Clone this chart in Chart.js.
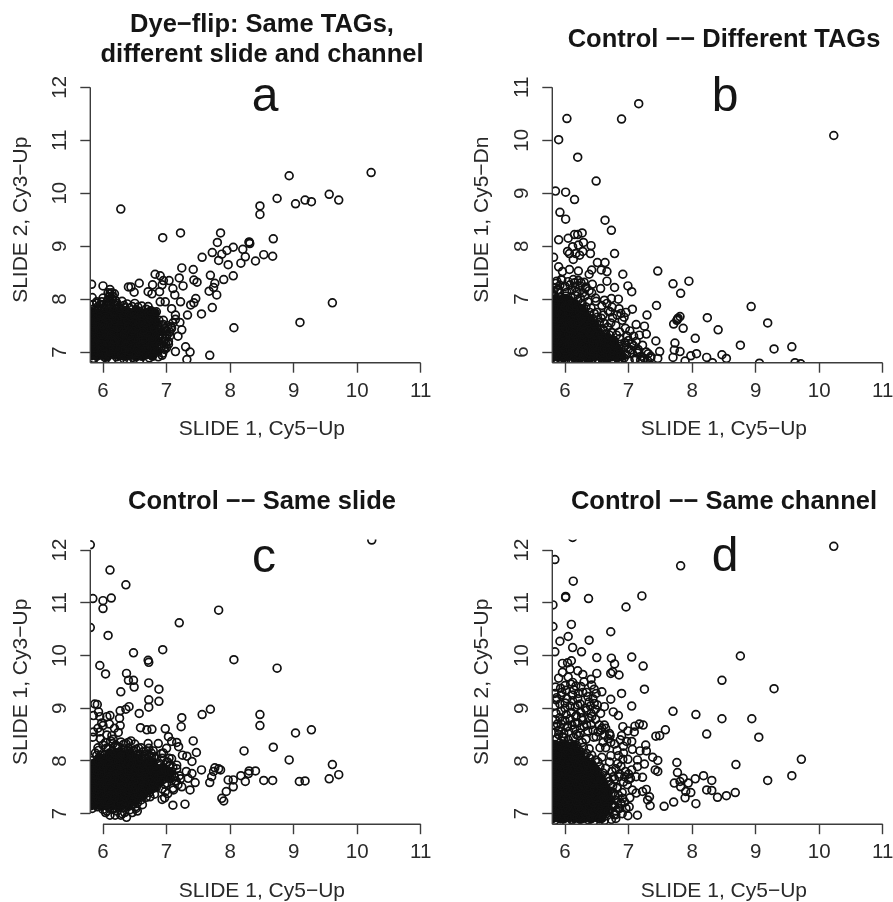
<!DOCTYPE html>
<html>
<head>
<meta charset="utf-8">
<title>Dye-flip scatter panels</title>
<script src="https://cdn.jsdelivr.net/npm/chart.js@4/dist/chart.umd.js"></script>
<style>
  html, body { margin: 0; padding: 0; background: #fff; }
  body { width: 893px; height: 902px; position: relative; overflow: hidden; font-family: "Liberation Sans", sans-serif; }
  canvas { position: absolute; }
  .title { position: absolute; width: 440px; text-align: center; font-weight: bold; font-size: 25.5px; line-height: 30px; color: #151515; }
  .letter { position: absolute; width: 60px; text-align: center; font-size: 48px; line-height: 60px; color: #151515; }
</style>
</head>
<body>
<canvas id="panelA"></canvas>
<canvas id="panelB"></canvas>
<canvas id="panelC"></canvas>
<canvas id="panelD"></canvas>
<div class="title" style="left:42px;top:8px">Dye−flip: Same TAGs,<br>different slide and channel</div>
<div class="title" style="left:504px;top:23px">Control −− Different TAGs</div>
<div class="title" style="left:42px;top:485px">Control −− Same slide</div>
<div class="title" style="left:504px;top:485px">Control −− Same channel</div>
<div class="letter" style="left:235px;top:65px">a</div>
<div class="letter" style="left:695px;top:65px">b</div>
<div class="letter" style="left:234px;top:526px">c</div>
<div class="letter" style="left:695px;top:525px">d</div>
<script>
const xTicks = [6, 7, 8, 9, 10, 11];
const yTicksHigh = [7, 8, 9, 10, 11, 12];
const yTicksLow = [6, 7, 8, 9, 10, 11];

const xLabel = "SLIDE 1, Cy5−Up";
const yLabelA = "SLIDE 2, Cy3−Up";
const yLabelB = "SLIDE 1, Cy5−Dn";
const yLabelC = "SLIDE 1, Cy3−Up";
const yLabelD = "SLIDE 2, Cy5−Up";

// panel a, outliers read one by one, then the black cloud row by row
const aX = [10.22,8.93,9.56,9.71,8.74,9.03,9.18,9.28,8.47,8.47,6.28,7.22,6.94,7.85,7.80,8.68,8.30,8.30,8.31,8.20,8.05,7.95,7.87,7.72,7.56,7.82,7.97,8.24,8.17,8.40,8.53,8.67,
  7.24,7.42,7.69,8.05,7.90,7.43,7.48,7.20,7.76,7.74,7.67,7.79,7.46,7.43,7.38,7.72,7.55,7.33,9.61,9.10,8.06,7.68,7.30,7.37,7.32,7.14,7.24,7.18,7.21,7.14,7.08,7.22,7.13,7.26,7.10,7.04,6.95,6.90,6.82,6.78,6.93,6.71,6.77,6.89,6.57,6.40,6.44,6.49,5.82,6.00,6.11,5.83,6.11,6.16,6.98,6.90,6.71,6.61,6.50,5.98,5.90,
  5.85,5.96,6.03,6.14,6.21,6.33,6.38,6.47,6.58,6.62,6.73,6.87,
  5.83,5.92,6.05,6.11,6.24,6.29,6.41,6.52,6.56,6.68,6.77,6.93,
  5.87,5.95,6.01,6.16,6.20,6.35,6.43,6.49,6.61,6.71,6.80,6.96,
  5.84,5.98,6.07,6.12,6.26,6.31,6.39,6.54,6.59,6.66,6.83,6.99,
  5.88,5.93,6.04,6.18,6.23,6.36,6.44,6.50,6.63,6.74,6.78,6.94,
  5.82,5.97,6.09,6.13,6.27,6.33,6.42,6.55,6.60,6.69,6.84,7.01,
  5.86,5.94,6.02,6.17,6.22,6.37,6.46,6.51,6.64,6.72,6.81,6.91,
  5.84,5.99,6.08,6.15,6.28,6.34,6.40,6.56,6.62,6.67,6.79,6.86,
  5.89,5.92,6.05,6.19,6.25,6.38,6.47,6.53,6.58,6.70,6.76,6.83,
  5.83,5.96,6.10,6.14,6.29,6.32,6.43,6.49,6.60,6.65,6.73,6.80,
  5.87,5.95,6.03,6.16,6.21,6.35,6.41,6.52,6.57,6.68,6.75,6.84,
  5.84,5.92,6.05,6.12,6.18,6.25,6.33,6.42,6.55,6.10,6.15,6.20,6.08,6.18,
  7.00,7.05,6.98,7.03,6.97,6.90,7.08,7.02,7.10,6.93,6.88,6.95,7.14,
  6.86,6.91,6.96,7.00,7.05,6.88,6.93,6.98,7.03,6.90,6.95,7.00,7.07,6.94,5.86,5.94,6.02,6.10,6.18,6.26,6.34,5.90,5.98,6.06,6.14,6.22,6.30,6.38,6.46,6.00,6.08,6.14];
const aY = [10.39,10.33,9.98,9.87,9.90,9.80,9.87,9.84,9.76,9.60,9.70,9.25,9.16,9.25,9.07,9.14,9.07,9.08,9.05,8.94,8.98,8.92,8.85,8.88,8.79,8.73,8.65,8.80,8.68,8.72,8.84,8.81,
  8.59,8.56,8.45,8.44,8.37,8.36,8.32,8.40,8.30,8.22,8.15,8.08,8.01,7.93,7.89,7.84,7.72,7.70,7.93,7.56,7.46,6.94,7.10,7.00,6.86,7.01,7.42,7.30,7.56,7.70,7.82,7.95,8.08,8.25,8.20,8.35,8.35,8.44,8.47,8.27,8.27,8.14,8.10,8.14,8.30,8.23,8.23,8.13,8.28,8.25,8.18,8.03,8.10,8.05,7.95,7.95,7.86,7.87,7.92,7.95,7.92,
  6.88,6.85,6.90,6.86,6.91,6.87,6.84,6.90,6.86,6.92,6.89,6.91,
  6.97,7.00,6.96,7.01,6.98,6.95,7.02,6.97,7.01,6.96,7.00,6.94,
  7.08,7.05,7.10,7.06,7.09,7.04,7.10,7.07,7.05,7.09,7.06,7.08,
  7.17,7.15,7.18,7.14,7.19,7.16,7.13,7.18,7.15,7.19,7.16,7.15,
  7.26,7.24,7.27,7.23,7.28,7.25,7.22,7.27,7.24,7.28,7.25,7.26,
  7.35,7.33,7.36,7.32,7.37,7.34,7.31,7.36,7.33,7.37,7.34,7.33,
  7.44,7.42,7.45,7.41,7.46,7.43,7.40,7.45,7.42,7.46,7.43,7.41,
  7.53,7.51,7.54,7.50,7.55,7.52,7.49,7.54,7.51,7.55,7.52,7.50,
  7.62,7.60,7.63,7.59,7.64,7.61,7.58,7.63,7.60,7.64,7.61,7.59,
  7.71,7.69,7.72,7.68,7.73,7.70,7.67,7.72,7.69,7.73,7.70,7.68,
  7.79,7.77,7.80,7.76,7.81,7.78,7.75,7.80,7.77,7.81,7.78,7.76,
  7.90,7.86,7.88,7.95,7.90,7.84,7.88,7.83,7.85,8.05,8.00,7.97,8.12,8.10,
  7.40,7.30,7.25,7.15,7.05,7.15,7.45,7.50,7.55,7.50,7.60,7.60,7.62,
  7.00,7.08,7.20,7.30,7.38,7.25,7.33,7.45,7.20,7.42,7.52,7.08,7.48,6.98,7.82,7.80,7.84,7.82,7.86,7.80,7.84,7.95,7.90,7.94,7.98,7.92,7.96,7.91,7.86,8.02,8.00,8.12];
const aCloudX = [
  5.81,5.90,5.99,6.07,6.17,6.26,6.35,6.43,6.52,6.60,6.69,6.78,
  5.85,5.94,6.03,6.13,6.22,6.31,6.39,6.47,6.56,6.65,6.74,6.84,
  5.82,5.91,6.00,6.09,6.18,6.27,6.36,6.45,6.54,6.63,6.72,6.81,
  5.86,5.95,6.05,6.14,6.24,6.33,6.41,6.48,6.57,6.66,6.76,6.88,
  5.83,5.90,5.99,6.08,6.19,6.28,6.37,6.46,6.55,6.64,6.71,6.82,
  5.85,5.93,6.03,6.12,6.21,6.30,6.40,6.49,6.58,6.67,6.76,6.86,
  5.81,5.91,6.00,6.10,6.18,6.27,6.36,6.44,6.53,6.62,6.70,6.79,
  5.86,5.96,6.04,6.14,6.23,6.32,6.42,6.51,6.60,6.68,6.77,6.84,
  5.83,5.92,6.01,6.11,6.20,6.29,6.38,6.46,6.55,6.63,6.71,6.78,
  5.85,5.94,6.06,6.16,6.24,6.33,6.43,6.54,6.63,6.70,6.77,6.82];
const aCloudY = [
  6.93,6.92,6.94,6.91,6.95,6.93,6.92,6.94,6.91,6.93,6.95,6.92,
  7.03,7.02,7.04,7.01,7.03,7.05,7.02,7.04,7.01,7.03,7.05,7.02,
  7.12,7.13,7.11,7.14,7.12,7.10,7.13,7.11,7.14,7.12,7.10,7.13,
  7.21,7.20,7.22,7.19,7.21,7.23,7.20,7.22,7.19,7.21,7.23,7.20,
  7.30,7.31,7.29,7.32,7.30,7.28,7.31,7.29,7.32,7.30,7.28,7.31,
  7.39,7.38,7.40,7.37,7.39,7.41,7.38,7.40,7.37,7.39,7.41,7.38,
  7.48,7.49,7.47,7.50,7.48,7.46,7.49,7.47,7.50,7.48,7.46,7.49,
  7.57,7.56,7.58,7.55,7.57,7.59,7.56,7.58,7.55,7.57,7.59,7.56,
  7.66,7.67,7.65,7.68,7.66,7.64,7.67,7.65,7.68,7.66,7.64,7.67,
  7.75,7.74,7.76,7.73,7.75,7.77,7.74,7.76,7.73,7.75,7.77,7.74];

// panel b
const bX = [10.23,7.16,6.89,6.03,5.90,6.20,6.49,5.85,6.01,6.15,5.92,6.01,6.63,6.73,5.90,6.05,6.15,6.20,6.27,6.29,6.12,6.21,6.41,6.04,6.07,6.17,6.28,6.40,6.13,6.23,6.78,5.82,5.90,6.51,6.63,6.42,6.57,6.66,6.38,6.91,7.46,6.07,6.21,5.96,7.95,7.70,7.82,7.44,8.93,6.99,7.05,6.78,6.66,6.56,6.43,6.33,6.25,6.15,5.94,5.86,5.88,6.73,6.84,6.62,6.49,7.06,7.29,6.96,6.88,6.71,8.24,9.19,7.81,7.77,7.78,7.76,7.71,7.86,8.41,7.12,7.25,7.28,7.17,8.05,7.43,7.73,8.76,9.57,9.29,7.22,7.49,7.81,7.72,8.07,7.98,7.70,8.47,8.54,8.23,7.31,7.46,7.35,7.25,7.14,7.04,8.32,7.89,9.06,9.62,9.71,
  5.84,5.92,6.01,6.09,6.17,6.26,6.34,6.42,6.51,6.59,6.67,6.76,6.84,6.93,7.01,7.10,7.19,
  5.87,5.96,6.04,6.13,6.20,6.29,6.38,6.46,6.55,6.63,6.71,6.80,6.88,6.97,7.06,
  5.83,5.91,6.00,6.08,6.16,6.25,6.33,6.41,6.50,6.58,6.66,6.75,6.83,6.92,7.00,
  5.86,5.95,6.03,6.12,6.21,6.28,6.37,6.45,6.54,6.62,6.70,6.79,6.87,6.96,
  5.84,5.92,6.01,6.09,6.18,6.26,6.35,6.43,6.52,6.60,6.68,6.77,6.86,
  5.87,5.96,6.05,6.13,6.22,6.30,6.39,6.47,6.55,6.64,6.73,6.81,
  5.83,5.91,6.00,6.08,6.17,6.25,6.34,6.42,6.50,6.59,6.67,
  5.86,5.95,6.04,6.12,6.21,6.29,6.37,6.46,6.54,6.62,
  5.84,5.92,6.01,6.09,6.18,6.26,6.35,6.43,6.51,6.57,
  5.87,5.96,6.05,6.13,6.22,6.30,6.39,6.46,
  5.83,5.91,6.00,6.08,6.17,6.25,6.33,6.41,
  5.86,5.95,6.04,6.12,6.20,6.27,6.36,
  5.84,5.92,6.01,6.09,6.16,6.24,6.31,
  5.82,5.90,6.03,6.11,6.19,6.28,6.38,
  6.50,6.60,6.68,6.75,6.82,6.72,6.80,6.90,6.95,7.02,7.08,6.98,7.12,7.05,7.15,
  5.85,5.92,6.00,6.08,6.16,6.24,6.32,5.87,5.95,6.05,6.13,6.21,6.30,6.42,6.48,6.58,6.66,6.74,6.85,6.93,6.62,6.70,6.78,6.86,6.94,7.00,7.08,7.14,7.20,7.28,7.35,7.22,7.30];
const bY = [10.09,10.69,10.40,10.41,10.01,9.68,9.23,9.04,9.02,8.88,8.64,8.51,8.49,8.30,8.12,8.15,8.22,8.22,8.25,8.07,7.99,8.02,8.01,7.90,7.86,7.86,7.90,7.86,7.75,7.83,7.86,7.79,7.61,7.69,7.69,7.55,7.55,7.52,7.47,7.47,7.53,7.56,7.53,7.52,7.34,7.29,7.11,6.88,6.86,7.25,7.14,7.22,7.34,7.20,7.28,7.23,7.31,7.31,7.37,7.30,7.17,7.01,7.00,6.98,6.96,6.81,6.70,6.75,6.73,6.76,6.65,6.55,6.67,6.62,6.64,6.60,6.53,6.45,6.42,6.52,6.49,6.34,6.32,6.26,6.21,6.17,6.13,6.10,6.06,6.13,6.01,6.01,6.04,5.97,5.93,5.90,5.95,5.88,5.90,5.97,5.88,5.89,5.88,6.01,6.04,5.80,5.83,5.79,5.80,5.78,
  5.85,5.88,5.84,5.87,5.83,5.86,5.89,5.84,5.87,5.85,5.88,5.83,5.86,5.89,5.84,5.87,5.85,
  5.95,5.97,5.94,5.98,5.95,5.93,5.97,5.96,5.94,5.98,5.95,5.93,5.97,5.95,5.98,
  6.05,6.07,6.04,6.06,6.03,6.08,6.05,6.02,6.06,6.04,6.07,6.03,6.05,6.08,6.06,
  6.15,6.13,6.16,6.14,6.17,6.12,6.15,6.13,6.16,6.14,6.17,6.12,6.15,6.13,
  6.25,6.23,6.26,6.24,6.27,6.22,6.25,6.23,6.26,6.24,6.27,6.22,6.25,
  6.35,6.33,6.36,6.34,6.37,6.32,6.35,6.33,6.36,6.34,6.37,6.32,
  6.45,6.43,6.46,6.44,6.47,6.42,6.45,6.43,6.46,6.44,6.47,
  6.55,6.53,6.56,6.54,6.57,6.52,6.55,6.53,6.56,6.54,
  6.65,6.63,6.66,6.64,6.67,6.62,6.65,6.63,6.66,6.64,
  6.75,6.73,6.76,6.74,6.77,6.72,6.75,6.73,
  6.85,6.83,6.86,6.84,6.87,6.82,6.85,6.83,
  6.95,6.93,6.96,6.94,6.97,6.92,6.95,
  7.05,7.03,7.06,7.04,7.07,7.02,7.05,
  7.15,7.18,7.13,7.17,7.14,7.12,7.16,
  6.75,6.70,6.78,6.65,6.70,6.55,6.50,6.60,6.45,6.40,6.30,6.30,6.20,6.15,6.05,
  7.22,7.26,7.24,7.27,7.22,7.25,7.21,7.34,7.36,7.33,7.37,7.35,7.32,7.12,7.02,6.88,6.92,6.85,6.82,6.66,6.40,6.32,6.20,6.38,6.18,6.22,6.12,5.98,5.92,6.00,5.92,5.84,5.84];
const bCloudX = [
  5.81,5.89,5.98,6.06,6.15,6.23,6.31,6.40,6.48,6.57,6.65,6.73,6.82,6.90,
  5.85,5.94,6.02,6.11,6.19,6.27,6.36,6.44,6.52,6.61,6.69,6.78,6.86,
  5.81,5.90,5.98,6.07,6.15,6.24,6.32,6.40,6.49,6.57,6.65,6.74,6.81,
  5.85,5.93,6.02,6.10,6.19,6.27,6.36,6.44,6.53,6.61,6.70,6.76,
  5.82,5.90,5.99,6.07,6.15,6.24,6.33,6.41,6.49,6.58,6.65,
  5.86,5.94,6.02,6.11,6.19,6.28,6.36,6.44,6.52,
  5.81,5.89,5.98,6.07,6.15,6.23,6.32,6.40,6.47,
  5.85,5.93,6.02,6.10,6.19,6.27,6.35,6.40,
  5.81,5.90,5.98,6.07,6.15,6.23,6.32,
  5.85,5.94,6.02,6.10,6.19,6.27,
  5.82,5.90,5.98,6.06,6.14,6.18,
  5.85,5.93,6.01,6.07];
const bCloudY = [
  5.90,5.91,5.89,5.92,5.90,5.88,5.91,5.89,5.92,5.90,5.88,5.91,5.89,5.92,
  6.00,5.99,6.01,5.98,6.00,6.02,5.99,6.01,5.98,6.00,6.02,5.99,6.01,
  6.10,6.11,6.09,6.12,6.10,6.08,6.11,6.09,6.12,6.10,6.08,6.11,6.09,
  6.20,6.19,6.21,6.18,6.20,6.22,6.19,6.21,6.18,6.20,6.22,6.19,
  6.30,6.31,6.29,6.32,6.30,6.28,6.31,6.29,6.32,6.30,6.28,
  6.40,6.39,6.41,6.38,6.40,6.42,6.39,6.41,6.38,
  6.50,6.51,6.49,6.52,6.50,6.48,6.51,6.49,6.52,
  6.60,6.59,6.61,6.58,6.60,6.62,6.59,6.61,
  6.70,6.71,6.69,6.72,6.70,6.68,6.71,
  6.80,6.79,6.81,6.78,6.80,6.82,
  6.90,6.91,6.89,6.92,6.90,6.88,
  7.00,6.99,7.01,6.98];

// panel c
const cX = [10.23,5.80,6.11,6.36,5.84,6.00,6.13,6.00,7.82,7.20,5.80,6.08,6.94,6.48,8.06,6.71,6.72,8.74,5.95,6.04,6.37,6.40,6.48,6.49,6.72,6.88,6.28,6.72,6.88,6.72,6.41,6.36,6.27,5.87,5.91,5.93,7.69,7.56,6.57,5.85,5.95,6.06,6.11,6.26,7.24,7.23,8.47,8.47,9.28,9.03,6.98,6.59,6.69,6.77,6.27,6.00,5.95,5.85,6.06,6.16,
  7.03,7.08,7.16,7.42,7.19,8.68,8.22,8.93,7.47,7.25,7.32,7.40,6.71,6.87,6.40,6.50,6.79,7.00,9.61,9.71,9.56,9.18,9.09,8.67,8.53,8.40,8.30,8.29,8.17,8.24,8.05,7.97,8.05,7.94,7.87,7.90,7.55,7.76,7.82,7.85,7.74,7.71,7.68,7.45,7.37,7.34,7.31,7.24,7.40,7.11,7.29,7.10,6.93,6.74,6.54,6.37,6.11,6.19,6.28,
  5.83,5.91,6.00,6.09,6.17,6.26,6.34,6.42,6.51,6.30,6.46,
  5.86,5.95,6.03,6.12,6.20,6.29,6.37,6.46,6.54,6.62,
  5.84,5.92,6.01,6.09,6.18,6.26,6.35,6.43,6.52,6.60,6.68,
  5.87,5.96,6.05,6.13,6.22,6.30,6.39,6.47,6.55,6.64,6.73,6.81,
  5.83,5.91,6.00,6.08,6.17,6.25,6.34,6.42,6.50,6.59,6.67,6.76,6.84,6.93,
  5.86,5.95,6.04,6.12,6.21,6.29,6.37,6.46,6.54,6.62,6.71,6.79,6.88,6.97,
  5.84,5.92,6.01,6.09,6.18,6.26,6.35,6.43,6.51,6.60,6.68,6.77,6.86,6.95,
  5.87,5.96,6.05,6.13,6.22,6.30,6.39,6.46,6.56,6.64,6.73,6.81,6.91,7.02,
  5.83,5.91,6.00,6.08,6.17,6.25,6.33,6.41,6.50,6.58,6.66,6.75,6.83,6.98,
  5.86,5.95,6.04,6.12,6.20,6.27,6.36,6.44,6.53,6.62,6.70,6.80,6.89,7.05,
  5.84,5.92,6.01,6.09,6.16,6.24,6.31,6.40,6.48,6.57,6.66,6.74,6.84,7.00,
  5.90,6.03,6.11,6.19,6.28,6.38,6.47,6.55,6.64,6.72,6.80,6.93,7.04,
  5.93,6.05,6.15,6.22,6.32,6.42,6.52,6.60,6.68,6.76,6.95,
  7.08,7.12,7.15,7.18,7.22,7.05,7.10,7.02,6.97,7.16,
  5.92,6.00,6.08,6.16,6.24,6.32,6.40,6.48,6.56,6.64,6.72,5.88,5.96,6.04,6.12,6.20,6.28,6.36,6.44,6.52,6.60,6.68,6.76,7.00,7.06,7.12,7.04,7.10,7.16,7.02,7.08,6.92,6.98,7.14,7.20,5.84,5.92,5.98,6.10,6.18,6.24,5.96,6.14,6.04,6.52,6.34,6.22,6.14,6.06];
const cY = [12.19,12.10,11.62,11.34,11.08,11.04,11.09,10.89,10.86,10.62,10.53,10.38,10.11,10.05,9.92,9.91,9.87,9.76,9.81,9.65,9.66,9.53,9.53,9.40,9.48,9.36,9.31,9.16,9.13,9.02,9.03,8.98,8.95,9.08,9.07,8.93,8.98,8.88,8.90,8.86,8.84,8.84,8.86,8.81,8.82,8.65,8.88,8.67,8.59,8.53,8.61,8.63,8.59,8.60,8.67,8.67,8.55,8.55,8.49,8.41,
  8.46,8.37,8.35,8.38,8.27,8.26,8.19,8.02,8.16,8.11,8.09,7.99,8.33,8.33,8.35,8.32,8.19,8.24,7.93,7.74,7.66,7.62,7.61,7.63,7.63,7.81,7.81,7.76,7.72,7.61,7.64,7.64,7.51,7.42,7.29,7.24,7.83,7.87,7.85,7.83,7.80,7.70,7.59,7.59,7.45,7.67,7.80,7.51,7.76,7.45,7.18,7.16,7.27,7.32,7.05,6.93,6.97,6.97,6.97,
  7.10,7.13,7.08,7.12,7.09,7.14,7.11,7.07,7.13,7.00,7.02,
  7.20,7.18,7.22,7.17,7.21,7.19,7.23,7.18,7.20,7.17,
  7.29,7.27,7.31,7.26,7.30,7.28,7.32,7.27,7.29,7.26,7.31,
  7.38,7.36,7.40,7.35,7.39,7.37,7.41,7.36,7.38,7.35,7.40,7.37,
  7.47,7.45,7.49,7.44,7.48,7.46,7.50,7.45,7.47,7.44,7.49,7.46,7.50,7.47,
  7.56,7.54,7.58,7.53,7.57,7.55,7.59,7.54,7.56,7.53,7.58,7.55,7.59,7.56,
  7.65,7.63,7.67,7.62,7.66,7.64,7.68,7.63,7.65,7.62,7.67,7.64,7.68,7.65,
  7.74,7.72,7.76,7.71,7.75,7.73,7.77,7.72,7.74,7.71,7.76,7.73,7.77,7.74,
  7.83,7.81,7.85,7.80,7.84,7.82,7.86,7.81,7.83,7.80,7.85,7.82,7.86,7.83,
  7.92,7.90,7.94,7.89,7.93,7.91,7.95,7.90,7.92,7.89,7.94,7.91,7.95,7.92,
  8.01,7.99,8.03,7.98,8.02,8.00,8.04,7.99,8.01,7.98,8.03,8.00,8.04,7.98,
  8.10,8.12,8.08,8.14,8.09,8.11,8.07,8.13,8.09,8.12,8.08,8.05,8.05,
  8.20,8.24,8.19,8.26,8.21,8.18,8.22,8.25,8.19,8.15,8.15,
  7.80,7.70,7.62,7.55,7.66,7.90,7.48,7.38,7.30,7.85,
  8.25,8.30,8.24,8.33,8.27,8.31,8.24,8.20,8.24,8.18,8.24,8.15,8.10,8.35,8.38,8.30,8.36,8.33,8.38,8.10,8.06,8.12,8.08,7.58,7.66,7.72,7.80,7.88,7.92,7.98,8.04,8.14,7.42,7.62,7.72,8.45,8.62,8.72,8.70,8.62,8.54,8.42,8.48,7.02,7.10,7.02,7.05,7.08,7.05];
const cCloudX = [
  5.81,5.90,5.98,6.07,6.15,6.24,6.32,6.40,
  5.82,5.90,5.99,6.07,6.16,6.24,6.33,6.41,6.50,
  5.85,5.94,6.02,6.11,6.19,6.28,6.36,6.45,6.54,6.62,
  5.81,5.90,5.98,6.07,6.15,6.24,6.32,6.40,6.49,6.57,6.65,6.72,
  5.85,5.94,6.02,6.10,6.19,6.27,6.36,6.44,6.53,6.61,6.69,6.76,6.82,
  5.81,5.89,5.98,6.06,6.15,6.23,6.32,6.40,6.49,6.57,6.66,6.74,6.83,6.90,
  5.85,5.93,6.02,6.10,6.19,6.27,6.36,6.44,6.52,6.61,6.69,6.78,6.86,6.94,7.01,
  5.82,5.90,5.98,6.07,6.15,6.24,6.32,6.41,6.49,6.57,6.66,6.75,6.83,6.91,6.99,7.06,
  5.85,5.94,6.02,6.11,6.19,6.28,6.36,6.45,6.53,6.62,6.70,6.79,6.86,6.94,
  5.81,5.90,5.98,6.07,6.15,6.23,6.32,6.40,6.49,6.57,6.66,6.72,6.79,
  5.85,5.93,6.02,6.11,6.19,6.28,6.36,6.44,6.51,6.57,
  5.94,6.02,6.10,6.19,6.27,6.34,6.43];
const cCloudY = [
  7.15,7.16,7.14,7.17,7.15,7.13,7.16,7.14,
  7.24,7.23,7.25,7.22,7.24,7.26,7.23,7.25,7.22,
  7.33,7.34,7.32,7.35,7.33,7.31,7.34,7.32,7.35,7.33,7.31,
  7.42,7.41,7.43,7.40,7.42,7.44,7.41,7.43,7.40,7.42,7.44,7.41,7.43,
  7.51,7.52,7.50,7.53,7.51,7.49,7.52,7.50,7.53,7.51,7.49,7.52,7.50,
  7.60,7.59,7.61,7.58,7.60,7.62,7.59,7.61,7.58,7.60,7.62,7.59,7.61,7.58,
  7.69,7.70,7.68,7.71,7.69,7.67,7.70,7.68,7.71,7.69,7.67,7.70,7.68,7.71,7.69,
  7.78,7.77,7.79,7.76,7.78,7.80,7.77,7.79,7.76,7.78,7.80,7.77,7.79,7.76,7.78,7.77,
  7.87,7.88,7.86,7.89,7.87,7.85,7.88,7.86,7.89,7.87,7.85,7.88,7.86,7.89,
  7.96,7.95,7.97,7.94,7.96,7.98,7.95,7.97,7.94,7.96,7.98,7.95,7.97,
  8.05,8.06,8.04,8.07,8.05,8.03,8.06,8.04,8.07,8.05,
  8.15,8.14,8.16,8.13,8.15,8.17,8.14];

// panel d
const dX = [10.23,6.12,5.84,7.82,6.13,6.01,6.01,6.37,7.21,6.96,5.81,6.10,5.81,6.72,6.05,6.38,5.92,6.12,6.26,5.84,8.76,7.05,6.50,6.73,5.96,6.04,6.10,6.78,7.23,6.50,5.96,6.08,6.20,6.28,6.72,6.75,6.85,5.90,6.05,6.41,8.47,6.12,6.00,6.25,6.42,7.25,9.29,6.89,6.58,6.49,6.14,6.21,5.84,5.94,5.86,6.72,6.12,6.38,6.46,6.62,6.51,7.05,6.00,6.20,6.76,6.84,6.25,6.41,7.70,8.06,8.47,8.94,9.05,8.23,7.58,7.49,7.43,
  7.23,7.17,7.10,7.09,6.99,6.91,6.89,6.87,6.97,7.05,7.06,6.92,6.71,6.62,6.54,6.49,7.27,7.18,7.28,7.38,7.46,7.42,7.46,7.25,7.14,7.14,6.99,6.91,7.22,7.12,7.03,7.05,6.83,7.76,7.77,8.69,9.72,9.57,9.19,8.31,8.18,8.05,7.86,7.94,7.81,7.72,7.82,7.90,7.98,7.89,8.23,8.31,8.40,8.54,8.68,8.06,7.71,7.56,7.34,7.30,7.33,7.28,7.22,7.12,7.06,7.14,6.99,7.01,6.91,6.80,
  5.84,5.93,6.02,6.10,6.19,6.28,6.37,6.45,6.54,6.62,6.73,
  5.87,5.96,6.05,6.14,6.22,6.31,6.40,6.48,6.57,6.66,6.77,
  5.83,5.91,6.00,6.08,6.17,6.26,6.34,6.43,6.52,6.61,6.70,
  5.86,5.95,6.04,6.12,6.21,6.30,6.38,6.47,6.56,6.64,6.74,
  5.84,5.92,6.01,6.09,6.18,6.26,6.35,6.44,6.53,6.62,6.72,
  5.87,5.96,6.05,6.13,6.22,6.30,6.39,6.48,6.57,6.65,6.78,
  5.83,5.91,6.00,6.08,6.17,6.25,6.34,6.42,6.51,6.60,6.70,
  5.86,5.95,6.04,6.12,6.21,6.29,6.37,6.46,6.55,6.64,6.75,
  5.84,5.92,6.01,6.09,6.18,6.26,6.35,6.43,6.52,6.61,6.69,
  5.87,5.96,6.05,6.13,6.22,6.30,6.39,6.47,6.56,6.66,6.76,
  5.83,5.91,6.00,6.08,6.17,6.25,6.34,6.42,6.51,6.60,
  5.86,5.95,6.04,6.12,6.21,6.29,6.37,6.46,6.55,6.64,
  5.84,5.92,6.01,6.09,6.18,6.26,6.35,6.43,6.52,
  5.87,5.96,6.05,6.13,6.22,6.30,6.39,6.48,6.58,
  5.83,5.91,6.00,6.08,6.17,6.25,6.34,6.42,
  5.86,5.95,6.04,6.12,6.21,6.29,6.38,
  5.84,5.92,6.01,6.09,6.18,6.27,
  5.87,5.96,6.05,6.13,6.21,6.33,6.45,
  5.83,5.90,5.98,6.06,6.15,6.24,6.36,6.52,
  5.86,5.94,6.03,6.11,6.20,6.30,6.41,6.58,
  5.84,5.92,6.00,6.08,6.17,6.28,6.38,6.48,
  6.80,6.88,6.95,6.85,6.92,7.00,6.82,6.90,6.98,7.02,6.84,6.88,6.78,6.86,6.94,6.80,6.90,6.96,7.00,6.84,6.92,
  5.86,5.94,6.02,6.10,6.18,6.26,6.34,6.42,5.84,5.92,6.00,6.08,6.16,6.24,6.32,6.40,6.48,6.56,5.87,5.95,6.03,6.12,6.20,6.28,6.36,6.44,5.85,5.93,6.01,6.09,6.17,6.30,6.34,6.46,5.88,5.96,6.04,6.16,6.24,6.34,6.44,5.90,5.98,6.18,
  6.68,6.74,6.80,6.70,6.76,6.84,6.72,6.80,6.88,6.66,6.74,6.82,6.70,6.78,6.86,6.94,6.72,6.82,6.64,6.72,6.60,6.68,6.55,6.62,6.70,6.78,6.56,6.64];
const dY = [12.07,12.24,11.82,11.70,11.41,11.12,11.10,11.08,11.13,10.92,10.96,10.59,10.55,10.45,10.36,10.29,10.27,10.15,10.07,10.07,9.99,9.97,9.96,9.95,9.85,9.86,9.90,9.84,9.80,9.66,9.68,9.74,9.71,9.64,9.66,9.69,9.63,9.57,9.59,9.55,9.53,9.49,9.43,9.41,9.44,9.36,9.37,9.28,9.31,9.28,9.35,9.28,9.28,9.25,9.16,9.17,9.14,9.12,9.09,9.03,9.06,9.04,9.00,9.06,8.93,8.86,8.92,8.90,8.94,8.88,8.80,8.80,8.45,8.51,8.59,8.48,8.47,
  8.68,8.70,8.66,8.55,8.57,8.65,8.48,8.40,8.37,8.37,8.22,8.28,8.48,8.68,8.68,8.46,8.30,8.19,8.19,8.07,8.01,7.83,7.80,7.94,8.02,7.89,8.03,8.03,7.69,7.70,7.67,7.83,7.95,7.97,7.78,7.93,8.03,7.72,7.63,7.63,7.72,7.66,7.67,7.58,7.61,7.58,7.51,7.42,7.40,7.30,7.45,7.44,7.31,7.34,7.40,7.19,7.22,7.14,7.15,7.26,7.32,7.46,7.42,7.39,7.45,6.97,6.96,7.13,7.29,6.91,
  6.87,6.90,6.85,6.89,6.86,6.91,6.88,6.85,6.90,6.87,6.89,
  6.96,6.99,6.94,6.98,6.95,7.00,6.97,6.94,6.99,6.96,6.98,
  7.05,7.08,7.03,7.07,7.04,7.09,7.06,7.03,7.08,7.05,7.07,
  7.14,7.17,7.12,7.16,7.13,7.18,7.15,7.12,7.17,7.14,7.16,
  7.23,7.26,7.21,7.25,7.22,7.27,7.24,7.21,7.26,7.23,7.25,
  7.32,7.35,7.30,7.34,7.31,7.36,7.33,7.30,7.35,7.32,7.34,
  7.41,7.44,7.39,7.43,7.40,7.45,7.42,7.39,7.44,7.41,7.43,
  7.50,7.53,7.48,7.52,7.49,7.54,7.51,7.48,7.53,7.50,7.52,
  7.59,7.62,7.57,7.61,7.58,7.63,7.60,7.57,7.62,7.59,7.61,
  7.68,7.71,7.66,7.70,7.67,7.72,7.69,7.66,7.71,7.68,7.70,
  7.77,7.80,7.75,7.79,7.76,7.81,7.78,7.75,7.80,7.77,
  7.86,7.89,7.84,7.88,7.85,7.90,7.87,7.84,7.89,7.86,
  7.95,7.98,7.93,7.97,7.94,7.99,7.96,7.93,7.98,
  8.04,8.07,8.02,8.06,8.03,8.08,8.05,8.02,8.07,
  8.13,8.16,8.11,8.15,8.12,8.17,8.14,8.11,
  8.22,8.25,8.20,8.24,8.21,8.26,8.23,
  8.31,8.34,8.29,8.33,8.30,8.35,
  8.42,8.46,8.40,8.44,8.48,8.41,8.45,
  8.54,8.58,8.52,8.56,8.60,8.53,8.57,8.55,
  8.66,8.70,8.64,8.68,8.72,8.65,8.69,8.62,
  8.78,8.82,8.76,8.80,8.84,8.77,8.81,8.79,
  7.85,7.90,7.80,7.70,7.60,7.75,7.50,7.40,7.55,7.30,7.35,7.20,7.15,7.10,7.22,7.05,7.00,7.10,7.65,8.10,8.15,
  8.90,8.94,8.88,8.92,8.86,8.82,8.96,8.84,9.05,9.08,9.10,9.04,9.02,9.08,9.00,9.04,8.98,8.90,9.20,9.30,9.18,9.25,9.18,9.30,9.22,9.18,9.40,9.38,9.34,9.46,9.42,9.50,9.30,9.36,8.70,8.76,8.66,8.72,8.62,8.68,8.58,8.50,8.44,8.50,
  7.05,7.15,6.98,7.28,7.40,7.10,7.55,7.25,7.18,7.68,7.80,7.48,7.98,7.65,7.75,7.70,8.10,8.20,8.25,8.35,8.35,8.42,8.25,8.50,8.52,8.32,8.58,8.62];
const dCloudX = [
  5.81,5.89,5.98,6.06,6.15,6.24,6.32,6.41,6.50,6.58,
  5.85,5.94,6.02,6.11,6.19,6.28,6.36,6.45,6.54,6.62,
  5.81,5.90,5.98,6.07,6.15,6.24,6.32,6.41,6.49,6.58,6.65,
  5.85,5.93,6.02,6.10,6.19,6.27,6.36,6.45,6.53,6.62,6.69,
  5.82,5.90,5.98,6.07,6.15,6.24,6.32,6.41,6.49,6.58,6.66,
  5.85,5.94,6.02,6.11,6.19,6.28,6.36,6.44,6.53,6.61,6.68,
  5.81,5.89,5.98,6.06,6.15,6.23,6.32,6.40,6.49,6.57,6.65,
  5.85,5.93,6.02,6.10,6.19,6.27,6.36,6.44,6.53,6.61,
  5.82,5.90,5.98,6.07,6.15,6.24,6.32,6.40,6.49,6.58,
  5.85,5.94,6.02,6.11,6.19,6.28,6.36,6.44,6.53,
  5.81,5.89,5.98,6.06,6.15,6.23,6.32,6.40,6.48,
  5.85,5.93,6.02,6.10,6.19,6.27,6.35,6.42,
  5.81,5.90,5.98,6.07,6.15,6.24,6.32,
  5.85,5.93,6.01,6.09,6.17,6.25,
  5.81,5.89,5.97,6.05,6.13,6.19,
  5.85,5.93,6.01,6.08,6.14];
const dCloudY = [
  6.91,6.92,6.90,6.93,6.91,6.89,6.92,6.90,6.93,6.91,
  7.01,7.00,7.02,6.99,7.01,7.03,7.00,7.02,6.99,7.01,
  7.10,7.11,7.09,7.12,7.10,7.08,7.11,7.09,7.12,7.10,7.08,
  7.19,7.18,7.20,7.17,7.19,7.21,7.18,7.20,7.17,7.19,7.21,
  7.28,7.29,7.27,7.30,7.28,7.26,7.29,7.27,7.30,7.28,7.26,
  7.37,7.36,7.38,7.35,7.37,7.39,7.36,7.38,7.35,7.37,7.39,
  7.46,7.47,7.45,7.48,7.46,7.44,7.47,7.45,7.48,7.46,7.44,
  7.55,7.54,7.56,7.53,7.55,7.57,7.54,7.56,7.53,7.55,
  7.64,7.65,7.63,7.66,7.64,7.62,7.65,7.63,7.66,7.64,
  7.73,7.72,7.74,7.71,7.73,7.75,7.72,7.74,7.71,
  7.82,7.83,7.81,7.84,7.82,7.80,7.83,7.81,7.84,
  7.91,7.90,7.92,7.89,7.91,7.93,7.90,7.92,
  8.00,8.01,7.99,8.02,8.00,7.98,8.01,
  8.10,8.09,8.11,8.08,8.10,8.12,
  8.20,8.21,8.19,8.22,8.20,8.18,
  8.30,8.29,8.31,8.28,8.30];

const ink = "#111111";
const axisInk = "#3c3c3c";

function toPoints(xs, ys) {
  return xs.map((x, i) => ({ x: x, y: ys[i] }));
}

function makePanel(id, left, top, width, height, xs, ys, cloudXs, cloudYs, yLabel, yTicks, yMin, yMax, xLineStart, yLineEnd, area) {
  const canvas = document.getElementById(id);
  canvas.width = width;
  canvas.height = height;
  canvas.style.left = left + "px";
  canvas.style.top = top + "px";
  canvas.style.width = width + "px";
  canvas.style.height = height + "px";

  new Chart(canvas, {
    type: "scatter",
    data: {
      datasets: [
        {
          data: toPoints(xs, ys),
          clip: 0,
          pointRadius: 3.9,
          pointBorderWidth: 1.7,
          pointBorderColor: ink,
          pointBackgroundColor: "rgba(0,0,0,0)",
        },
        {
          // rings overlap so much here that the reference is solid black
          data: toPoints(cloudXs, cloudYs),
          clip: 0,
          pointRadius: 3.9,
          pointBorderWidth: 1.7,
          pointBorderColor: ink,
          pointBackgroundColor: ink,
        },
      ],
    },
    options: {
      responsive: false,
      animation: false,
      layout: { padding: { top: area.top, right: width - area.right, left: 0, bottom: 0 } },
      plugins: { legend: { display: false }, tooltip: { enabled: false } },
      scales: {
        x: {
          type: "linear",
          min: 5.8,
          max: 11.2,
          afterBuildTicks: (axis) => { axis.ticks = xTicks.map((v) => ({ value: v })); },
          afterFit: (axis) => { axis.height = height - area.bottom; },
          grid: { drawOnChartArea: false, drawTicks: true, tickLength: 10, tickColor: axisInk, tickWidth: 1.4 },
          border: { display: false },
          ticks: { color: "#2a2a2a", font: { family: "Liberation Sans", size: 20.5 }, padding: 6, maxRotation: 0, autoSkip: false },
          title: { display: true, text: xLabel, color: "#2a2a2a", font: { family: "Liberation Sans", size: 21 }, padding: { top: 0, bottom: 0 } },
        },
        y: {
          type: "linear",
          min: yMin,
          max: yMax,
          afterBuildTicks: (axis) => { axis.ticks = yTicks.map((v) => ({ value: v })); },
          afterFit: (axis) => { axis.width = area.left; },
          grid: { drawOnChartArea: false, drawTicks: true, tickLength: 10, tickColor: axisInk, tickWidth: 1.4 },
          border: { display: false },
          ticks: { color: "#2a2a2a", font: { family: "Liberation Sans", size: 20.5 }, padding: 8.5, minRotation: 90, maxRotation: 90, crossAlign: "center", autoSkip: false },
          title: { display: true, text: yLabel, color: "#2a2a2a", font: { family: "Liberation Sans", size: 21 }, padding: { top: area.yTitlePad, bottom: 0 } },
        },
      },
    },
    plugins: [{
      // R stops both axis lines at the outer ticks, not at the plot edge
      id: "axisLines",
      afterDraw(chart) {
        const xScale = chart.scales.x;
        const yScale = chart.scales.y;
        const area = chart.chartArea;
        const c = chart.ctx;
        c.save();
        c.strokeStyle = axisInk;
        c.lineWidth = 1.4;
        c.beginPath();
        c.moveTo(area.left, yScale.getPixelForValue(yTicks[yTicks.length - 1]));
        c.lineTo(area.left, yScale.getPixelForValue(yLineEnd));
        c.moveTo(xScale.getPixelForValue(xLineStart), area.bottom);
        c.lineTo(xScale.getPixelForValue(xTicks[xTicks.length - 1]), area.bottom);
        c.stroke();
        c.restore();
      },
    }],
  });
}

makePanel("panelA", 0, 0, 447, 442, aX, aY, aCloudX, aCloudY, yLabelA, yTicksHigh, 6.8, 12.2, 5.8, 6.8, { left: 90.3, right: 433.4, top: 76.7, bottom: 362.7, yTitlePad: 9 });
makePanel("panelB", 447, 0, 460, 442, bX, bY, bCloudX, bCloudY, yLabelB, yTicksLow, 5.8, 11.2, 5.8, 5.8, { left: 105.3, right: 448.4, top: 76.7, bottom: 362.7, yTitlePad: 23 });
makePanel("panelC", 0, 470, 447, 434, cX, cY, cCloudX, cCloudY, yLabelC, yTicksHigh, 6.8, 12.2, 6, 7, { left: 90.3, right: 433.4, top: 69.5, bottom: 354.2, yTitlePad: 9 });
makePanel("panelD", 447, 470, 460, 434, dX, dY, dCloudX, dCloudY, yLabelD, yTicksHigh, 6.8, 12.2, 5.8, 6.8, { left: 105.3, right: 448.4, top: 69.5, bottom: 354.2, yTitlePad: 23 });
</script>
</body>
</html>
